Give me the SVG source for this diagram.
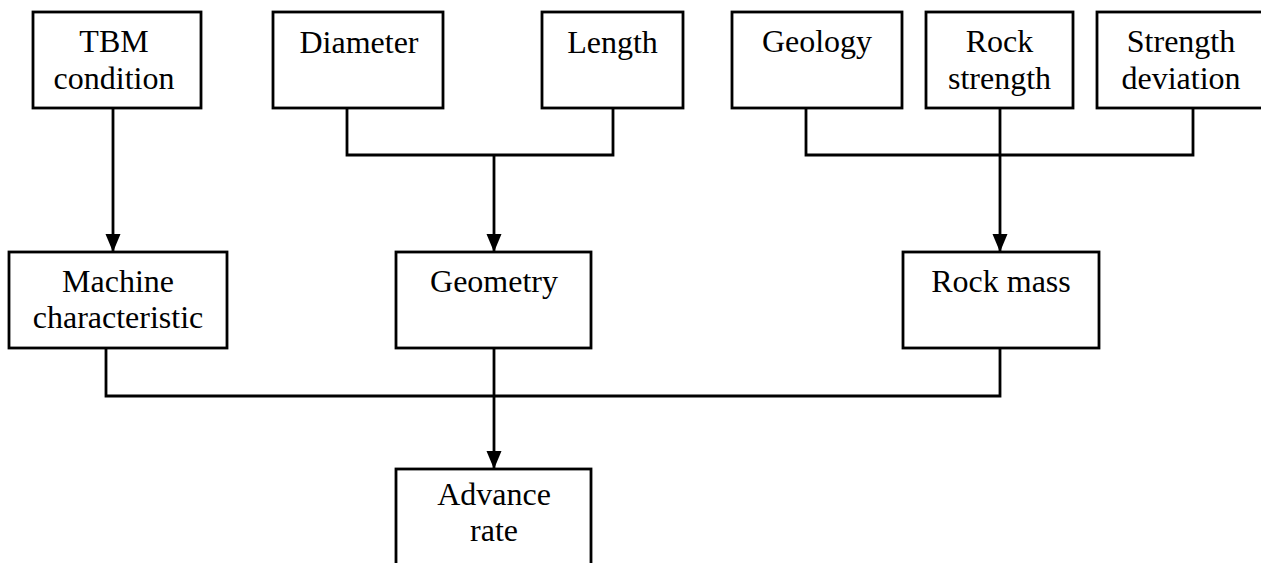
<svg xmlns="http://www.w3.org/2000/svg" width="1261" height="563" viewBox="0 0 1261 563">
<defs>
<style>
.box{fill:#fff;stroke:#000;stroke-width:2.8}
.lbl{font-family:"Liberation Serif","Times New Roman",serif;font-size:32px;fill:#000;text-anchor:middle}
.ln{fill:none;stroke:#000;stroke-width:2.8}
</style>
<marker id="arrdown" markerUnits="userSpaceOnUse" markerWidth="16" markerHeight="18" viewBox="0 0 16 18" refX="8" refY="18" orient="0">
<path d="M0.5,0 L15.5,0 L8,18 Z" fill="#000"/>
</marker>
</defs>
<rect width="1261" height="563" fill="#fff"/>
<g id="connectors">
<path class="ln" d="M113,108 V252" marker-end="url(#arrdown)"/>
<path class="ln" d="M347,108 V155 H613 V108"/>
<path class="ln" d="M494,155 V252" marker-end="url(#arrdown)"/>
<path class="ln" d="M806,108 V155 H1193 V108"/>
<path class="ln" d="M1000,108 V252" marker-end="url(#arrdown)"/>
<path class="ln" d="M106,348 V396 H1000 V348"/>
<path class="ln" d="M494,348 V469" marker-end="url(#arrdown)"/>
</g>
<g id="tbm-condition">
<rect class="box" x="33" y="12" width="168" height="96"/>
<text class="lbl" x="114" y="52">TBM</text>
<text class="lbl" x="114" y="89">condition</text>
</g>
<g id="diameter">
<rect class="box" x="273" y="12" width="170" height="96"/>
<text class="lbl" x="359" y="53">Diameter</text>
</g>
<g id="length">
<rect class="box" x="542" y="12" width="141" height="96"/>
<text class="lbl" x="612.5" y="53">Length</text>
</g>
<g id="geology">
<rect class="box" x="732" y="12" width="170" height="96"/>
<text class="lbl" x="817" y="52">Geology</text>
</g>
<g id="rock-strength">
<rect class="box" x="926" y="12" width="147" height="96"/>
<text class="lbl" x="999.5" y="52">Rock</text>
<text class="lbl" x="999.5" y="89">strength</text>
</g>
<g id="strength-deviation">
<rect class="box" x="1097" y="12" width="170" height="96"/>
<text class="lbl" x="1181" y="52">Strength</text>
<text class="lbl" x="1181" y="89">deviation</text>
</g>
<g id="machine-characteristic">
<rect class="box" x="9" y="252" width="218" height="96"/>
<text class="lbl" x="118" y="292">Machine</text>
<text class="lbl" x="118" y="328">characteristic</text>
</g>
<g id="geometry">
<rect class="box" x="396" y="252" width="195" height="96"/>
<text class="lbl" x="494" y="292">Geometry</text>
</g>
<g id="rock-mass">
<rect class="box" x="903" y="252" width="196" height="96"/>
<text class="lbl" x="1001" y="292">Rock mass</text>
</g>
<g id="advance-rate">
<rect class="box" x="396" y="469" width="195" height="120"/>
<text class="lbl" x="494" y="505">Advance</text>
<text class="lbl" x="494" y="541">rate</text>
</g>
</svg>
